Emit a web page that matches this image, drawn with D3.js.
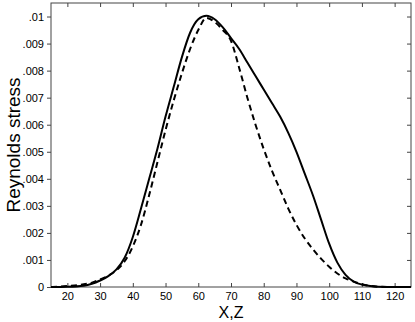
<!DOCTYPE html>
<html>
<head>
<meta charset="utf-8">
<script src="https://cdn.jsdelivr.net/npm/d3@7"></script>
<style>
html,body{margin:0;padding:0;background:#fff;}
svg{display:block;font-family:"Liberation Sans",Arial,sans-serif;}
</style>
</head>
<body>
<svg id="chart" width="415" height="322"></svg>
<script>
const xPositions = [15,20,25,27.5,30,32.5,35,37.5,40,42.5,45,47.5,50,52.5,55,57.5,60,62.5,65,67.5,70,72.5,75,77.5,80,82.5,85,87.5,90,92.5,95,97.5,100,102.5,105,107.5,110,112.5,115,120,125];
const solidValues = [0,0.00001,0.00005,0.00012,0.00024,0.0004,0.00065,0.00108,0.00185,0.0029,0.0040,0.0051,0.0063,0.0074,0.0085,0.0094,0.0099,0.01003,0.0099,0.0096,0.0092,0.0088,0.0083,0.0078,0.0073,0.0068,0.0063,0.0057,0.0050,0.0042,0.0034,0.0025,0.0016,0.0009,0.00045,0.0002,0.00009,0.00004,0.00001,0,0];
const dashedValues = [0,0.00004,0.0001,0.00016,0.00028,0.00042,0.00062,0.00095,0.0015,0.0023,0.0034,0.0046,0.0058,0.0069,0.0079,0.0088,0.0095,0.00995,0.0098,0.0095,0.0091,0.0081,0.0070,0.0060,0.0051,0.0043,0.0036,0.0029,0.0023,0.0018,0.0014,0.00105,0.00075,0.0005,0.00032,0.0002,0.0001,0.00004,0.00001,0,0];
const xTicks = [20,30,40,50,60,70,80,90,100,110,120];
const yTicks = [0,0.001,0.002,0.003,0.004,0.005,0.006,0.007,0.008,0.009,0.01];
const yTickLabels = ["0",".001",".002",".003",".004",".005",".006",".007",".008",".009",".01"];
const xLabel = "X,Z";
const yLabel = "Reynolds stress";

const svg = d3.select("#chart");
const L = 51, R = 411, T = 3, B = 287;
const x = d3.scaleLinear().domain([15,125]).range([L,R]);
const y = d3.scaleLinear().domain([0,0.0105]).range([B,T]);

svg.append("rect").attr("x",L).attr("y",T).attr("width",R-L).attr("height",B-T)
  .attr("fill","none").attr("stroke","#444").attr("stroke-width",1);

const gx = svg.append("g").attr("transform",`translate(0,${B})`)
  .call(d3.axisBottom(x).tickValues(xTicks).tickSizeInner(-4).tickSizeOuter(0).tickPadding(5));
const gxt = svg.append("g").attr("transform",`translate(0,${T})`)
  .call(d3.axisTop(x).tickValues(xTicks).tickSizeInner(-4).tickSizeOuter(0).tickFormat(""));
const gy = svg.append("g").attr("transform",`translate(${L},0)`)
  .call(d3.axisLeft(y).tickValues(yTicks).tickSizeInner(4).tickSizeOuter(0).tickPadding(3)
    .tickFormat((d,i)=>yTickLabels[i]));
const gyr = svg.append("g").attr("transform",`translate(${R},0)`)
  .call(d3.axisRight(y).tickValues(yTicks).tickSizeInner(-4).tickSizeOuter(0).tickFormat(""));

[gx,gxt,gy,gyr].forEach(g=>{
  g.select(".domain").remove();
  g.selectAll(".tick line").attr("stroke","#444");
  g.selectAll("text").attr("font-family","'Liberation Sans',Arial,sans-serif").attr("font-size",11).attr("fill","#000");
});

const line = d3.line().x((d,i)=>x(xPositions[i])).y(d=>y(d)).curve(d3.curveMonotoneX);

svg.append("path").datum(dashedValues).attr("d",line)
  .attr("fill","none").attr("stroke","#000").attr("stroke-width",2).attr("stroke-dasharray","6,4");
svg.append("path").datum(solidValues).attr("d",line)
  .attr("fill","none").attr("stroke","#000").attr("stroke-width",2);

svg.append("text").attr("x",(L+R)/2).attr("y",318).attr("text-anchor","middle")
  .attr("font-size",16).attr("fill","#000").text(xLabel);
svg.append("text").attr("transform",`translate(20,${(T+B)/2}) rotate(-90)`).attr("text-anchor","middle")
  .attr("font-size",19).attr("fill","#000").text(yLabel);
</script>
</body>
</html>
